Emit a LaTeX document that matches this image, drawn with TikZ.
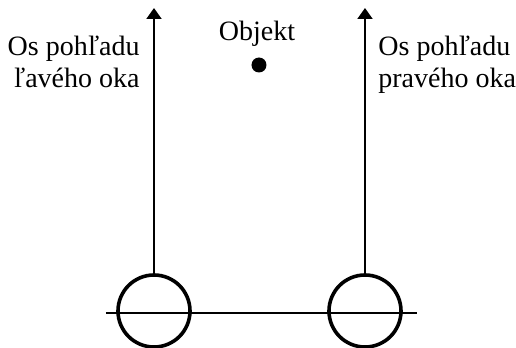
\documentclass[tikz,border=0pt]{standalone}
\usepackage{fontspec}
\setmainfont{Liberation Serif}
\usetikzlibrary{arrows.meta}
\tikzset{
  eye/.style={draw, circle, line width=1.8pt, minimum size=36pt, inner sep=0pt},
  axis/.style={line width=1pt, -{Triangle[width=7.5pt,length=5.5pt]}},
  bodka/.style={fill, circle, minimum size=7.5pt, inner sep=0pt},
  popis/.style={font=\fontsize{14pt}{16.5pt}\selectfont, inner sep=0pt}
}
\begin{document}
\begin{tikzpicture}[x=0.5pt,y=-0.5pt]
\useasboundingbox (0,0) rectangle (516,348);
% oci
\node[eye] (lo) at (154,311) {};
\node[eye] (po) at (365,311) {};
\coordinate (lt) at (154,8);
\coordinate (pt) at (365,8);
\coordinate (zl) at (106,313);
\coordinate (zp) at (417,313);
% objekt
\node[bodka] (obj) at (259,65) {};
\node[popis, anchor=base] (objt) at (257,40) {Objekt};
% popisy osi
\node[popis, anchor=base east, align=right] (lp) at (140,88) {Os pohľadu\\ľavého oka};
\node[popis, anchor=base west, align=left] (pp) at (378,88) {Os pohľadu\\pravého oka};
\draw[axis] (lo) -- (lt);
\draw[axis] (po) -- (pt);
\draw[line width=1pt] (zl) -- (zp);
\end{tikzpicture}
\end{document}
